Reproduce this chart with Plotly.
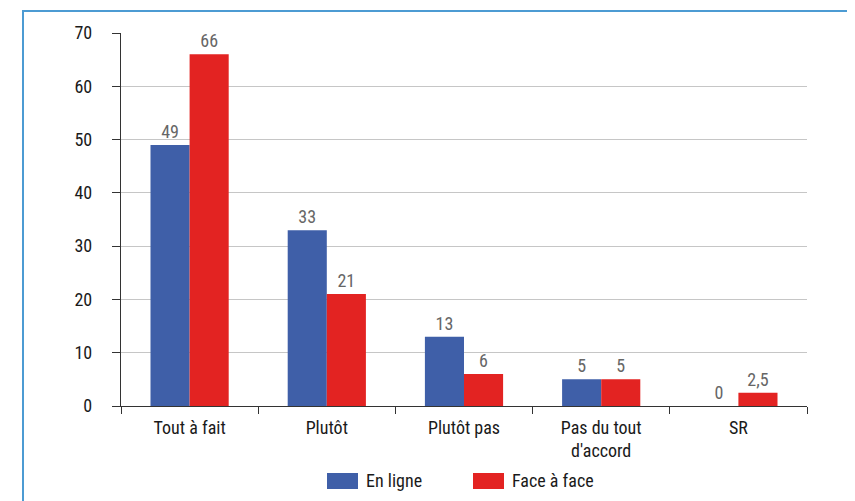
import plotly.graph_objects as go

categories = ["Tout à fait", "Plutôt", "Plutôt pas", "Pas du tout<br>d'accord", "SR"]
series_names = ["En ligne", "Face à face"]
en_ligne = [49, 33, 13, 5, 0]
face_a_face = [66, 21, 6, 5, 2.5]
colors = ["#3F5FA8", "#E32322"]

FONT = "Liberation Sans Narrow, Roboto Condensed, Arial Narrow, Roboto, sans-serif"

# page has an 8px body margin; compensate
OFF = 8
W, H = 855 - OFF, 501 - OFF
L, T = 121 - OFF, 33 - OFF
PW, PH = 686, 373
R = W - L - PW
B = H - T - PH

def fmt(v):
    return ("%g" % v).replace(".", ",")

fig = go.Figure()
for name, vals, col in zip(series_names, [en_ligne, face_a_face], colors):
    fig.add_trace(go.Bar(
        x=categories, y=vals, name=name, marker=dict(color=col, line=dict(width=0)),
        text=[fmt(v) for v in vals], textposition="outside",
        textfont=dict(color="#666666", size=18, family=FONT),
        cliponaxis=False, showlegend=False,
    ))

fig.update_layout(
    width=W, height=H,
    margin=dict(l=L, r=R, t=T, b=B, pad=0),
    paper_bgcolor="white", plot_bgcolor="white",
    barmode="group", bargap=0.43, bargroupgap=0,
    font=dict(family=FONT, size=18, color="#1a1a1a"),
    xaxis=dict(
        showline=True, linecolor="#333333", linewidth=1.3,
        ticks="outside", tickson="boundaries", ticklen=7, tickcolor="#333333", tickwidth=1.3,
        tickfont=dict(size=18, family=FONT, color="#1a1a1a"),
        ticklabelstandoff=5,
        showgrid=False,
    ),
    yaxis=dict(
        range=[0, 70], dtick=10, showline=True, linecolor="#333333", linewidth=1.3,
        ticks="outside", ticklen=8, tickcolor="#333333", tickwidth=1.3,
        showgrid=True, gridcolor="#c6c6c6", gridwidth=1,
        tickfont=dict(size=18, family=FONT, color="#1a1a1a"), zeroline=False,
        ticklabelstandoff=16,
    ),
    showlegend=False,
)

# frame around the figure (window coords: left 23, right 851, top 11)
fig.add_shape(type="rect", xref="paper", yref="paper",
              x0=(23 - 121) / PW, x1=(851 - 121) / PW,
              y0=-0.4, y1=1 + (33 - 11) / PH,
              line=dict(color="#4C9BD3", width=2), fillcolor="rgba(0,0,0,0)", layer="below")

# custom legend
leg_y_center = (406 - 481) / PH
sw_h = 16 / PH
legend_x = [327, 473]
for name, col, lx in zip(series_names, colors, legend_x):
    fig.add_shape(type="rect", xref="paper", yref="paper",
                  x0=(lx - 121) / PW, x1=(lx + 31 - 121) / PW,
                  y0=leg_y_center - sw_h / 2, y1=leg_y_center + sw_h / 2,
                  line=dict(width=0), fillcolor=col)
    fig.add_annotation(xref="paper", yref="paper", x=(lx + 37 - 121) / PW, y=leg_y_center,
                       text=name, showarrow=False, xanchor="left", yanchor="middle",
                       font=dict(size=18, family=FONT, color="#1a1a1a"))

fig.write_html("out.html")
